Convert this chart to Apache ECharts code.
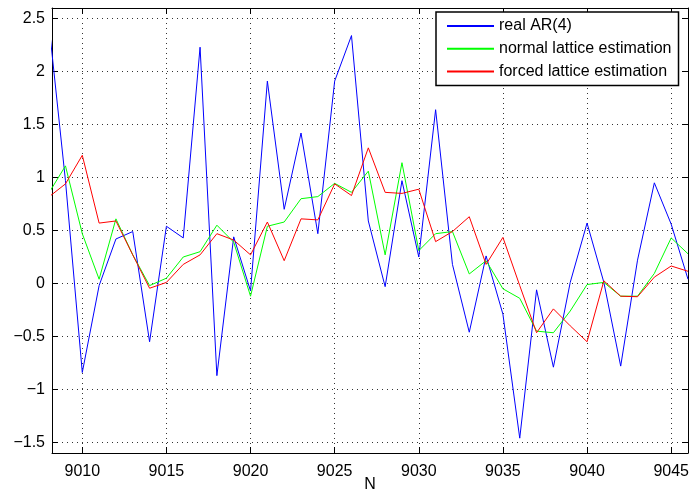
<!DOCTYPE html>
<html>
<head>
<meta charset="utf-8">
<script src="https://cdn.jsdelivr.net/npm/echarts@6/dist/echarts.min.js"></script>
<style>
html,body{margin:0;padding:0;background:#fff;}
#chart{width:689px;height:491px;}
</style>
</head>
<body>
<div id="chart"></div>
<script>
const xs = [9008,9009,9010,9011,9012,9013,9014,9015,9016,9017,9018,9019,9020,9021,9022,9023,9024,9025,9026,9027,9028,9029,9030,9031,9032,9033,9034,9035,9036,9037,9038,9039,9040,9041,9042,9043,9044,9045,9046];
const realAR = [2.47,0.97,-0.84,-0.02,0.42,0.49,-0.55,0.54,0.43,2.23,-0.87,0.44,-0.07,1.91,0.70,1.42,0.47,1.91,2.34,0.59,-0.03,0.97,0.25,1.64,0.18,-0.46,0.26,-0.29,-1.46,-0.06,-0.79,0.01,0.57,0.01,-0.78,0.22,0.95,0.56,0.04];
const normalLattice = [0.85,1.11,0.47,0.04,0.61,0.27,-0.02,0.05,0.25,0.30,0.55,0.39,-0.12,0.54,0.58,0.80,0.82,0.945,0.86,1.06,0.27,1.14,0.31,0.47,0.49,0.09,0.215,-0.05,-0.14,-0.45,-0.465,-0.26,-0.01,0.01,-0.12,-0.12,0.095,0.43,0.28];
const forcedLattice = [0.815,0.94,1.21,0.57,0.59,0.27,-0.045,0.01,0.18,0.27,0.47,0.41,0.27,0.58,0.215,0.61,0.60,0.94,0.83,1.28,0.86,0.85,0.89,0.395,0.49,0.63,0.18,0.435,-0.02,-0.465,-0.24,-0.40,-0.55,0.025,-0.12,-0.125,0.06,0.165,0.115];
const seriesNames = ['real AR(4)','normal lattice estimation','forced lattice estimation'];
const xTicks = [9010,9015,9020,9025,9030,9035,9040,9045];
const yTicks = [-1.5,-1,-0.5,0,0.5,1,1.5,2,2.5];
const xRange = [9008.2, 9046];
const yRange = [-1.6, 2.6];

const FONT = '"Liberation Sans", Arial, Helvetica, sans-serif';
const gridLine = {show:true, lineStyle:{color:'#333', width:1, type:[1,4]}};
const axisLine = {show:true, onZero:false, lineStyle:{color:'#000', width:1}};
const pair = arr => xs.map((x,i)=>[x, arr[i]]);

const chart = echarts.init(document.getElementById('chart'), null, {renderer:'canvas'});
chart.setOption({
  animation:false,
  backgroundColor:'#fff',
  textStyle:{fontFamily:FONT},
  grid:{left:52, right:1, top:8, bottom:38, containLabel:false, outerBoundsMode:'none'},
  legend:{
    orient:'vertical', left:436, top:12,
    padding:[6,7,6,10], itemGap:6.7, itemWidth:47, itemHeight:16,
    borderColor:'#000', borderWidth:1.5, backgroundColor:'#fff',
    itemStyle:{color:'rgba(0,0,0,0)', borderColor:'rgba(0,0,0,0)', borderWidth:0, opacity:0},
    textStyle:{fontFamily:FONT, fontSize:16, color:'#000', lineHeight:16},
    data:seriesNames
  },
  xAxis:[{
    type:'value', position:'bottom', min:xRange[0], max:xRange[1],
    name:'N', nameLocation:'middle', nameGap:24, nameMoveOverlap:false,
    nameTextStyle:{fontFamily:FONT, fontSize:16, color:'#000', verticalAlign:'top'},
    axisLine:axisLine,
    axisTick:{show:true, inside:true, length:6, customValues:xTicks, lineStyle:{color:'#000'}},
    axisLabel:{show:true, customValues:xTicks, margin:11, fontFamily:FONT, fontSize:16, color:'#000',
      formatter: v => String(v)},
    splitLine:gridLine
  },{
    type:'value', position:'top', min:xRange[0], max:xRange[1],
    axisLine:axisLine,
    axisTick:{show:true, inside:true, length:6, customValues:xTicks, lineStyle:{color:'#000'}},
    axisLabel:{show:false, customValues:xTicks},
    splitLine:{show:false}
  }],
  yAxis:[{
    type:'value', position:'left', min:yRange[0], max:yRange[1],
    axisLine:axisLine,
    axisTick:{show:true, inside:true, length:6, customValues:yTicks, lineStyle:{color:'#000'}},
    axisLabel:{show:true, customValues:yTicks, margin:7, fontFamily:FONT, fontSize:16, color:'#000',
      formatter: v => String(v).replace('-', '\u2212')},
    splitLine:gridLine
  },{
    type:'value', position:'right', min:yRange[0], max:yRange[1],
    axisLine:axisLine,
    axisTick:{show:true, inside:true, length:6, customValues:yTicks, lineStyle:{color:'#000'}},
    axisLabel:{show:false, customValues:yTicks},
    splitLine:{show:false}
  }],
  series:[
    {name:seriesNames[0], type:'line', data:pair(realAR), symbol:'none', clip:true,
     lineStyle:{color:'#0000ff', width:1}, itemStyle:{color:'#0000ff'}},
    {name:seriesNames[1], type:'line', data:pair(normalLattice), symbol:'none', clip:true,
     lineStyle:{color:'#00ff00', width:1}, itemStyle:{color:'#00ff00'}},
    {name:seriesNames[2], type:'line', data:pair(forcedLattice), symbol:'none', clip:true,
     lineStyle:{color:'#ff0000', width:1}, itemStyle:{color:'#ff0000'}}
  ]
});
</script>
</body>
</html>
